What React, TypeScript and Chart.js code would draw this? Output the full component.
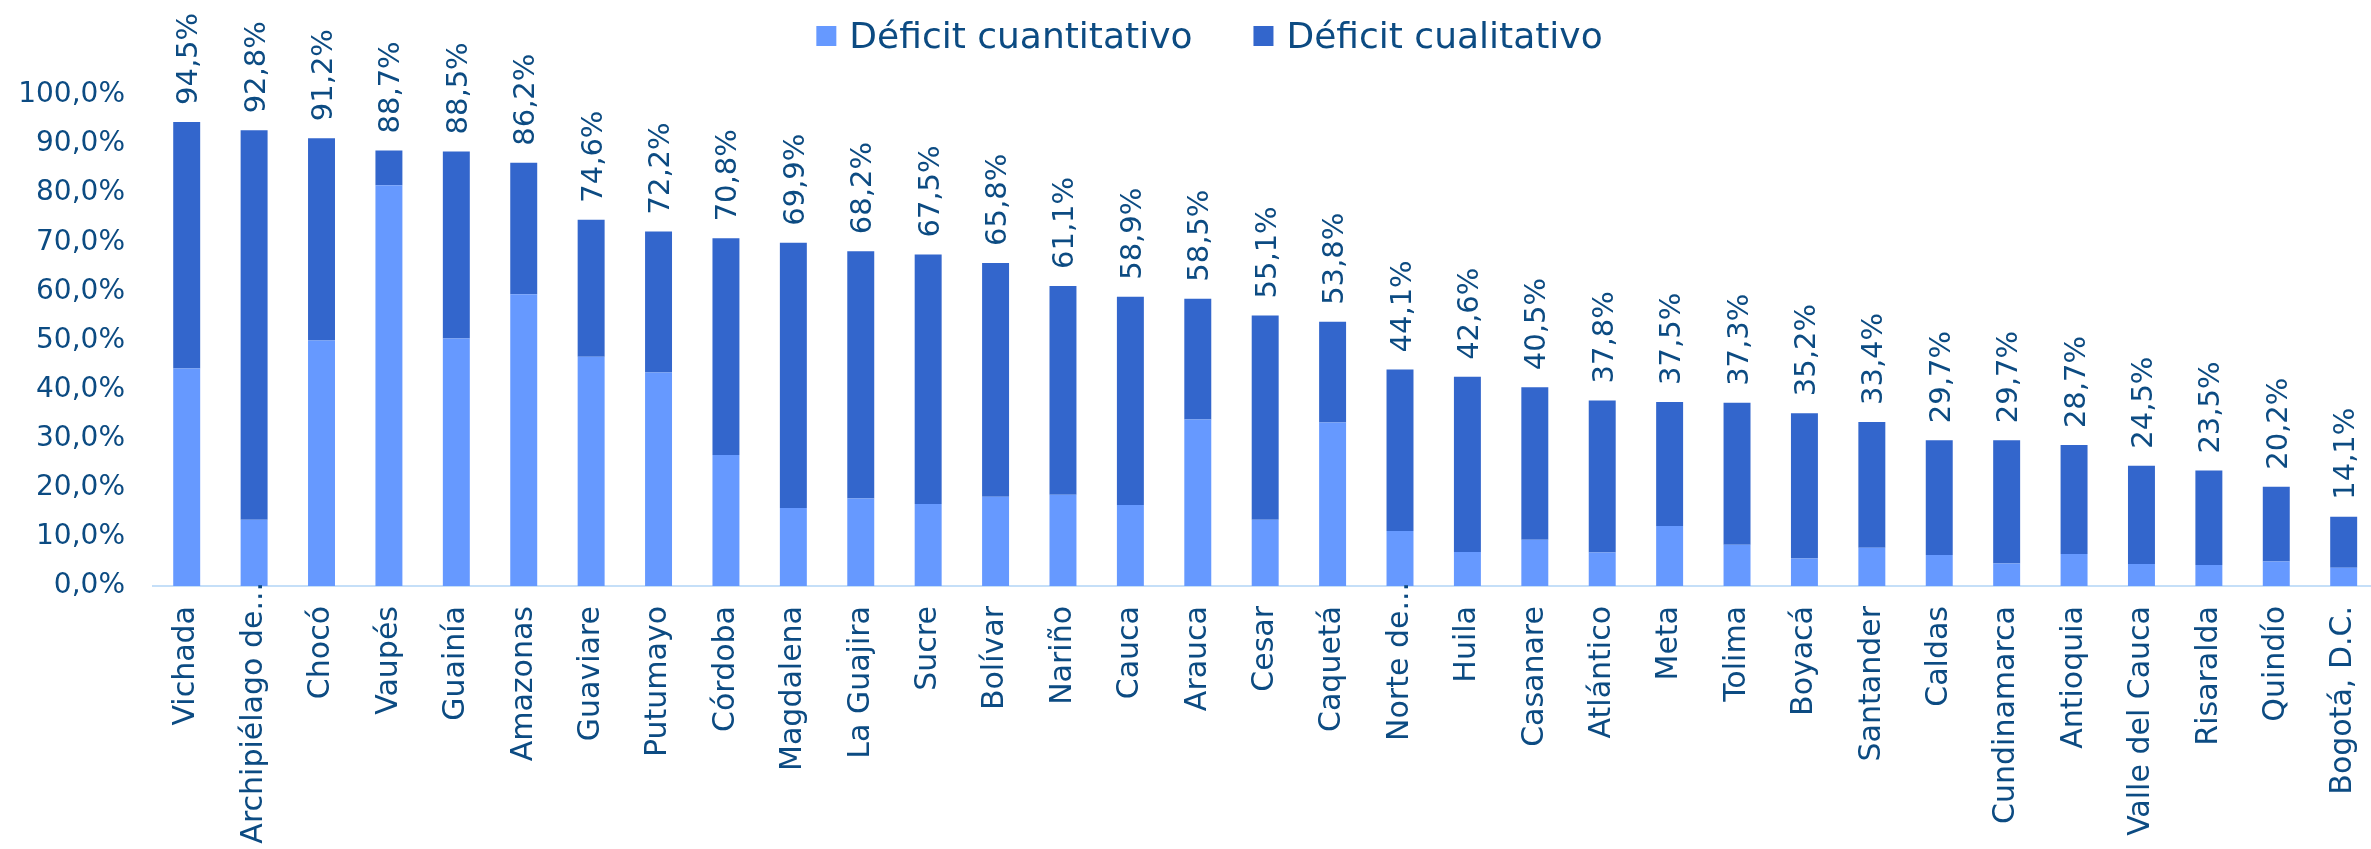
import React, { useEffect, useRef } from "react";
import { Chart, registerables } from "chart.js";

Chart.register(...registerables);

const categories = [
  "Vichada", "Archipiélago de...", "Chocó", "Vaupés", "Guainía", "Amazonas",
  "Guaviare", "Putumayo", "Córdoba", "Magdalena", "La Guajira", "Sucre",
  "Bolívar", "Nariño", "Cauca", "Arauca", "Cesar", "Caquetá", "Norte de...",
  "Huila", "Casanare", "Atlántico", "Meta", "Tolima", "Boyacá", "Santander",
  "Caldas", "Cundinamarca", "Antioquia", "Valle del Cauca", "Risaralda",
  "Quindío", "Bogotá, D.C.",
];

const cuantitativo = [
  44.3, 13.5, 50.0, 81.6, 50.4, 59.4, 46.7, 43.5, 26.7, 15.9, 17.8, 16.7,
  18.2, 18.6, 16.5, 33.9, 13.5, 33.3, 11.2, 6.9, 9.4, 6.8, 12.2, 8.4, 5.6,
  7.8, 6.3, 4.6, 6.5, 4.5, 4.3, 5.0, 3.7,
];

const cualitativo = [
  50.2, 79.3, 41.2, 7.1, 38.1, 26.8, 27.9, 28.7, 44.1, 54.0, 50.4, 50.8,
  47.6, 42.5, 42.4, 24.6, 41.6, 20.5, 32.9, 35.7, 31.1, 31.0, 25.3, 28.9,
  29.6, 25.6, 23.4, 25.1, 22.2, 20.0, 19.2, 15.2, 10.4,
];

const totals = [
  94.5, 92.8, 91.2, 88.7, 88.5, 86.2, 74.6, 72.2, 70.8, 69.9, 68.2, 67.5,
  65.8, 61.1, 58.9, 58.5, 55.1, 53.8, 44.1, 42.6, 40.5, 37.8, 37.5, 37.3,
  35.2, 33.4, 29.7, 29.7, 28.7, 24.5, 23.5, 20.2, 14.1,
];

const seriesNames = ["Déficit cuantitativo", "Déficit cualitativo"];
const seriesColors = ["#6699ff", "#3366cc"];

const yMin = 0;
const yMax = 100;
const yStep = 10;

const TEXT = "#0c4b82";
const FONT = "'DejaVu Sans', sans-serif";
const XFONT_SIZE = 30;

const fmt = (v: number) => v.toFixed(1).replace(".", ",") + "%";
const isTruncated = (s: string) => s.endsWith("...");

const totalLabelsPlugin = {
  id: "totalLabels",
  afterDatasetsDraw(chart: any) {
    const ctx = chart.ctx;
    const meta = chart.getDatasetMeta(chart.data.datasets.length - 1);
    ctx.save();
    ctx.font = `29px ${FONT}`;
    ctx.fillStyle = TEXT;
    ctx.textAlign = "left";
    ctx.textBaseline = "alphabetic";
    meta.data.forEach((bar: any, i: number) => {
      ctx.save();
      ctx.translate(bar.x + 10.5, bar.y - 17);
      ctx.rotate(-Math.PI / 2);
      ctx.fillText(fmt(totals[i]), 0, 0);
      ctx.restore();
    });
    ctx.restore();
  },
};

// Truncated category labels sit a little higher, touching the axis line.
const truncatedLabelsPlugin = {
  id: "truncatedLabels",
  afterDraw(chart: any) {
    const ctx = chart.ctx;
    const xs = chart.scales.x;
    ctx.save();
    ctx.font = `${XFONT_SIZE}px ${FONT}`;
    ctx.fillStyle = TEXT;
    ctx.textAlign = "right";
    ctx.textBaseline = "middle";
    categories.forEach((c, i) => {
      if (!isTruncated(c)) return;
      ctx.save();
      ctx.translate(xs.getPixelForTick(i), xs.top - 4);
      ctx.rotate(-Math.PI / 2);
      ctx.fillText(c, 0, 0);
      ctx.restore();
    });
    ctx.restore();
  },
};

const legendPlugin = {
  id: "customLegend",
  afterDraw(chart: any) {
    const ctx = chart.ctx;
    ctx.save();
    ctx.font = `36px ${FONT}`;
    const box = 20;
    const gapText = 13;
    const gapItems = 61;
    const items = chart.data.datasets.map((d: any) => ({
      text: d.label,
      color: d.backgroundColor,
    }));
    const widths = items.map(
      (it: any) => box + gapText + ctx.measureText(it.text).width
    );
    const total =
      widths.reduce((a: number, b: number) => a + b, 0) +
      gapItems * (items.length - 1);
    let x = 1209.5 - total / 2;
    items.forEach((it: any, i: number) => {
      ctx.fillStyle = it.color;
      ctx.fillRect(x, 26, box, box);
      ctx.fillStyle = TEXT;
      ctx.textAlign = "left";
      ctx.textBaseline = "alphabetic";
      ctx.fillText(it.text, x + box + gapText, 48);
      x += widths[i] + gapItems;
    });
    ctx.restore();
  },
};

export default function App() {
  const ref = useRef<HTMLCanvasElement | null>(null);

  useEffect(() => {
    if (!ref.current) return;
    const chart = new Chart(ref.current, {
      type: "bar",
      data: {
        labels: categories,
        datasets: [
          {
            label: seriesNames[0],
            data: cuantitativo,
            backgroundColor: seriesColors[0],
            barPercentage: 0.4,
            categoryPercentage: 1,
          },
          {
            label: seriesNames[1],
            data: cualitativo,
            backgroundColor: seriesColors[1],
            barPercentage: 0.4,
            categoryPercentage: 1,
          },
        ],
      },
      options: {
        responsive: false,
        animation: false,
        devicePixelRatio: 1,
        layout: { padding: { top: 95, right: 21, left: 0, bottom: 0 } },
        plugins: {
          legend: { display: false },
          tooltip: { enabled: false },
        },
        scales: {
          x: {
            stacked: true,
            grid: { display: false, drawTicks: false },
            border: { display: true, color: "#c5dff8", width: 2 },
            ticks: {
              color: (c: any) =>
                isTruncated(categories[c.index] || "") ? "rgba(0,0,0,0)" : TEXT,
              font: { family: FONT, size: XFONT_SIZE },
              minRotation: 90,
              maxRotation: 90,
              autoSkip: false,
              padding: 20,
            },
            afterFit(scale: any) {
              scale.height = 263;
            },
          },
          y: {
            stacked: true,
            min: yMin,
            max: yMax,
            grid: { display: false, drawTicks: false },
            border: { display: false },
            ticks: {
              stepSize: yStep,
              color: TEXT,
              font: { family: FONT, size: 28 },
              padding: 28,
              callback: (v: any) => fmt(Number(v)),
            },
            afterFit(scale: any) {
              scale.width = 153;
            },
          },
        },
      },
      plugins: [totalLabelsPlugin, truncatedLabelsPlugin, legendPlugin],
    });
    return () => chart.destroy();
  }, []);

  return (
    <div
      style={{
        position: "fixed",
        left: 0,
        top: 0,
        width: 2371,
        height: 849,
        overflow: "hidden",
        background: "#ffffff",
      }}
    >
      <canvas
        ref={ref}
        width={2400}
        height={849}
        style={{ width: 2400, height: 849, display: "block" }}
      />
    </div>
  );
}
